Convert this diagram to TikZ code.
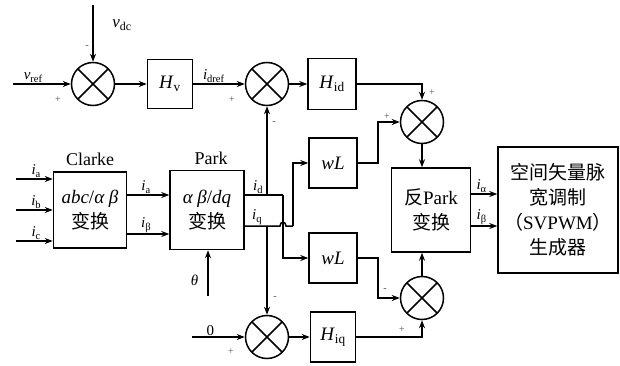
\documentclass[tikz,border=0pt]{standalone}
\usepackage{fontspec}
\setmainfont{Liberation Serif}
\newfontfamily\cjk{Noto Sans CJK SC}
\usetikzlibrary{arrows.meta,positioning}

\begin{document}
\begin{tikzpicture}[
  x=1pt,y=-1pt,
  line width=1.5pt,
  arr/.style={-{Stealth[length=8pt,width=6pt]}},
  blk/.style={draw,minimum width=48pt,minimum height=50pt,inner sep=0pt,
    align=center,font=\fontsize{19}{25}\selectfont},
  sumnode/.style={draw,circle,minimum size=43pt,inner sep=0pt,
    path picture={\draw (path picture bounding box.north west)--(path picture bounding box.south east)
      (path picture bounding box.north east)--(path picture bounding box.south west);}},
  sgn/.style={font=\fontsize{10}{10}\selectfont,text=black!70,inner sep=0pt},
  lbl/.style={font=\fontsize{15}{15}\selectfont,inner sep=1pt}
]
\useasboundingbox (0,0) rectangle (620,366);

% summing junctions
\node[sumnode] (s1) at (93,84) {};
\node[sumnode] (s2) at (267,84) {};
\node[sumnode] (s3) at (422,122) {};
\node[sumnode] (s4) at (422,298) {};
\node[sumnode] (s5) at (267,337) {};

% blocks
\node[blk,minimum width=45pt,minimum height=49pt] (hv) at (170,84) {\textit{H}\textsubscript{v}};
\node[blk,minimum height=51pt] (hid) at (332,84) {\textit{H}\textsubscript{id}};
\node[blk] (wl1) at (333,163) {\textit{wL}};
\node[blk] (wl2) at (333,258) {\textit{wL}};
\node[blk,minimum width=45pt] (hiq) at (333,337) {\textit{H}\textsubscript{iq}};
\node[blk,minimum width=73pt,minimum height=76pt] (clk) at (90,210) {\textit{abc}/\textit{α β}\\{\cjk 变换}};
\node[blk,minimum width=74pt,minimum height=79pt] (prk) at (207,210) {\textit{α β}/\textit{dq}\\{\cjk 变换}};
\node[blk,minimum width=79pt,minimum height=84pt] (iprk) at (431,210) {{\cjk 反}Park\\{\cjk 变换}};
\node[blk,minimum width=120pt,minimum height=126pt] (svm) at (558,210)
  {{\cjk 空间矢量脉}\\{\cjk 宽调制}\\{\cjk （}SVPWM{\cjk ）}\\{\cjk 生成器}};
\node[font=\fontsize{18}{18}\selectfont,above=1pt of clk] (clkt) {Clarke};
\node[font=\fontsize{18}{18}\selectfont,above=1pt of prk,xshift=4pt] (prkt) {Park};

% free ends
\coordinate (vdc) at (93,5);
\coordinate (vref) at (13,84);
\coordinate (ia) at (16,179);
\coordinate (ib) at (16,210);
\coordinate (ic) at (16,241);
\coordinate (th) at (208,296);
\coordinate (zr) at (192,337);
\coordinate (jd) at (267,195);
\coordinate (jq) at (267,226);
\coordinate (bd) at (283,195);
\coordinate (bq) at (293,226);

% connectors
\draw[arr] (vdc) -- (s1);
\draw[arr] (vref) -- node[lbl,above,pos=0.35]{\textit{v}\textsubscript{ref}} (s1);
\draw[arr] (s1) -- (hv);
\draw[arr] (hv) -- node[lbl,above,pos=0.4]{\textit{i}\textsubscript{dref}} (s2);
\draw[arr] (s2) -- (hid);
\draw[arr] (hid) -| (s3);
\draw[arr] (wl1.east) -- ++(20,0) |- (s3);
\draw[arr] (s3.south) -- (s3.south |- iprk.north);
\draw[arr] (wl2.east) -- ++(20,0) |- (s4);
\draw[arr] (hiq) -| (s4);
\draw[arr] (s4.north) -- (s4.north |- iprk.south);
\draw[arr] (zr) -- node[lbl,above,pos=0.35]{0} (s5);
\draw[arr] (s5) -- (hiq);

\draw[arr] (ia) -- node[lbl,above,pos=0.55]{\textit{i}\textsubscript{a}} (ia -| clk.west);
\draw[arr] (ib) -- node[lbl,above,pos=0.55]{\textit{i}\textsubscript{b}} (ib -| clk.west);
\draw[arr] (ic) -- node[lbl,above,pos=0.55]{\textit{i}\textsubscript{c}} (ic -| clk.west);
\draw[arr] ([yshift=15pt]clk.east) -- node[lbl,above,pos=0.45]{\textit{i}\textsubscript{a}} ([yshift=15pt]clk.east -| prk.west);
\draw[arr] ([yshift=-24pt]clk.east) -- node[lbl,above,pos=0.45]{\textit{i}\textsubscript{β}} ([yshift=-24pt]clk.east -| prk.west);
\draw[arr] (th) -- node[lbl,left=8pt,pos=0.35]{\textit{θ}} (th |- prk.south);

\draw ([yshift=15pt]prk.east) -- node[lbl,above,pos=0.35]{\textit{i}\textsubscript{d}} (bd);
\draw[arr] (bd) |- (wl2);
\draw ([yshift=-16pt]prk.east) -- node[lbl,above,pos=0.35]{\textit{i}\textsubscript{q}} (280,226)
  .. controls (280,221) and (286,221) .. (286,226) -- (bq);
\draw[arr] (bq) |- (wl1);
\draw[arr] (jd) -- (s2);
\draw[arr] (jq) -- (s5);

\draw[arr] ([yshift=16pt]iprk.east) -- node[lbl,above,pos=0.4]{\textit{i}\textsubscript{α}} ([yshift=16pt]iprk.east -| svm.west);
\draw[arr] ([yshift=-16pt]iprk.east) -- node[lbl,above,pos=0.4]{\textit{i}\textsubscript{β}} ([yshift=-16pt]iprk.east -| svm.west);

% labels
\node[lbl,font=\fontsize{17}{17}\selectfont] (vdct) at (122,25) {\textit{v}\textsubscript{dc}};
\node[sgn] (m1) at (87,47) {-};
\node[sgn] (p1) at (58,100) {+};
\node[sgn] (p2) at (232,100) {+};
\node[sgn] (m2) at (274,123) {-};
\node[sgn] (p3) at (432,93) {+};
\node[sgn] (p4) at (387,117) {+};
\node[sgn] (m4) at (385,290) {-};
\node[sgn] (p5) at (402,330) {+};
\node[sgn] (m5) at (275,298) {-};
\node[sgn] (p6) at (231,352) {+};
\end{tikzpicture}
\end{document}
